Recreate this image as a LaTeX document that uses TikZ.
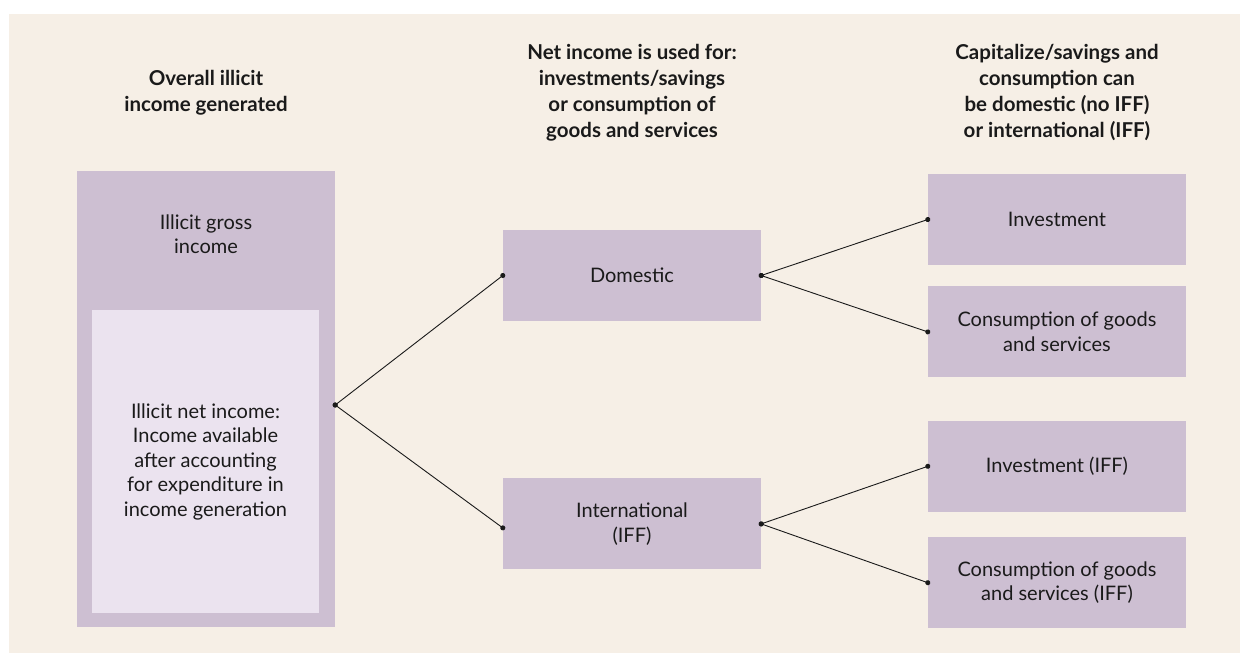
\documentclass[tikz,border=0pt]{standalone}
\usepackage{fontspec}
\setmainfont{Lato}
\usetikzlibrary{arrows.meta, positioning}
\definecolor{iffBeige}{HTML}{F6EFE6}
\definecolor{iffMauve}{HTML}{CDBFD2}
\definecolor{iffLilac}{HTML}{EBE3EF}
\definecolor{iffText}{HTML}{1A1A1A}
\tikzset{
  iffbox/.style={rectangle, fill=iffMauve, inner sep=0pt,
    minimum height=91pt, minimum width=258pt,
    align=center, text=iffText, font=\fontsize{20}{24.5}\selectfont},
  iffinner/.style={iffbox, fill=iffLilac, minimum height=303pt, minimum width=227pt},
  iffhead/.style={align=center, text=iffText, font=\fontsize{20.5}{26}\selectfont\bfseries},
  ifflink/.style={{Circle[length=5pt]}-{Circle[length=5pt]}, line width=0.9pt, iffText, shorten <=-2.5pt, shorten >=-2.5pt}
}
\begin{document}
\begin{tikzpicture}[x=1pt, y=-1pt]
  \useasboundingbox (0,0) rectangle (1240,653);
  \fill[iffBeige] (9,14) rectangle (1240,653);
  % column headings
  \node[iffhead] (headleft) at (206,93) {Overall illicit\\income generated};
  \node[iffhead] (headmid) at (632,93) {Net income is used for:\\investments/savings\\or consumption of\\goods and services};
  \node[iffhead] (headright) at (1057,93) {Capitalize/savings and\\consumption can\\be domestic (no IFF)\\or international (IFF)};
  % income boxes
  \node[iffbox, minimum height=456pt] (gross) at (206,399) {};
  \node[text=iffText, align=center, font=\fontsize{20}{24.5}\selectfont] (grosstext) at (206,234) {Illicit gross\\income};
  \node[iffinner] (net) at (205.5,461.5) {Illicit net income:\\Income available\\after accounting\\for expenditure in\\income generation};
  \coordinate (hub) at ([yshift=-6pt]gross.east);
  % use of net income
  \node[iffbox] (domestic) at (632,275.5) {Domestic};
  \node[iffbox, below=157pt of domestic] (international) {International\\(IFF)};
  % final destinations
  \node[iffbox] (invest) at (1057,219.5) {Investment};
  \node[iffbox, below=21pt of invest] (consume) {Consumption of goods\\and services};
  \node[iffbox, below=43pt of consume] (investiff) {Investment (IFF)};
  \node[iffbox, below=25pt of investiff] (consumeiff) {Consumption of goods\\and services (IFF)};
  % connectors
  \draw[ifflink] (hub) -- (domestic.west);
  \draw[ifflink] (hub) -- ([yshift=-4pt]international.west);
  \draw[ifflink] (domestic.east) -- (invest.west);
  \draw[ifflink] (domestic.east) -- (consume.west);
  \draw[ifflink] (international.east) -- (investiff.west);
  \draw[ifflink] (international.east) -- (consumeiff.west);
\end{tikzpicture}
\end{document}
